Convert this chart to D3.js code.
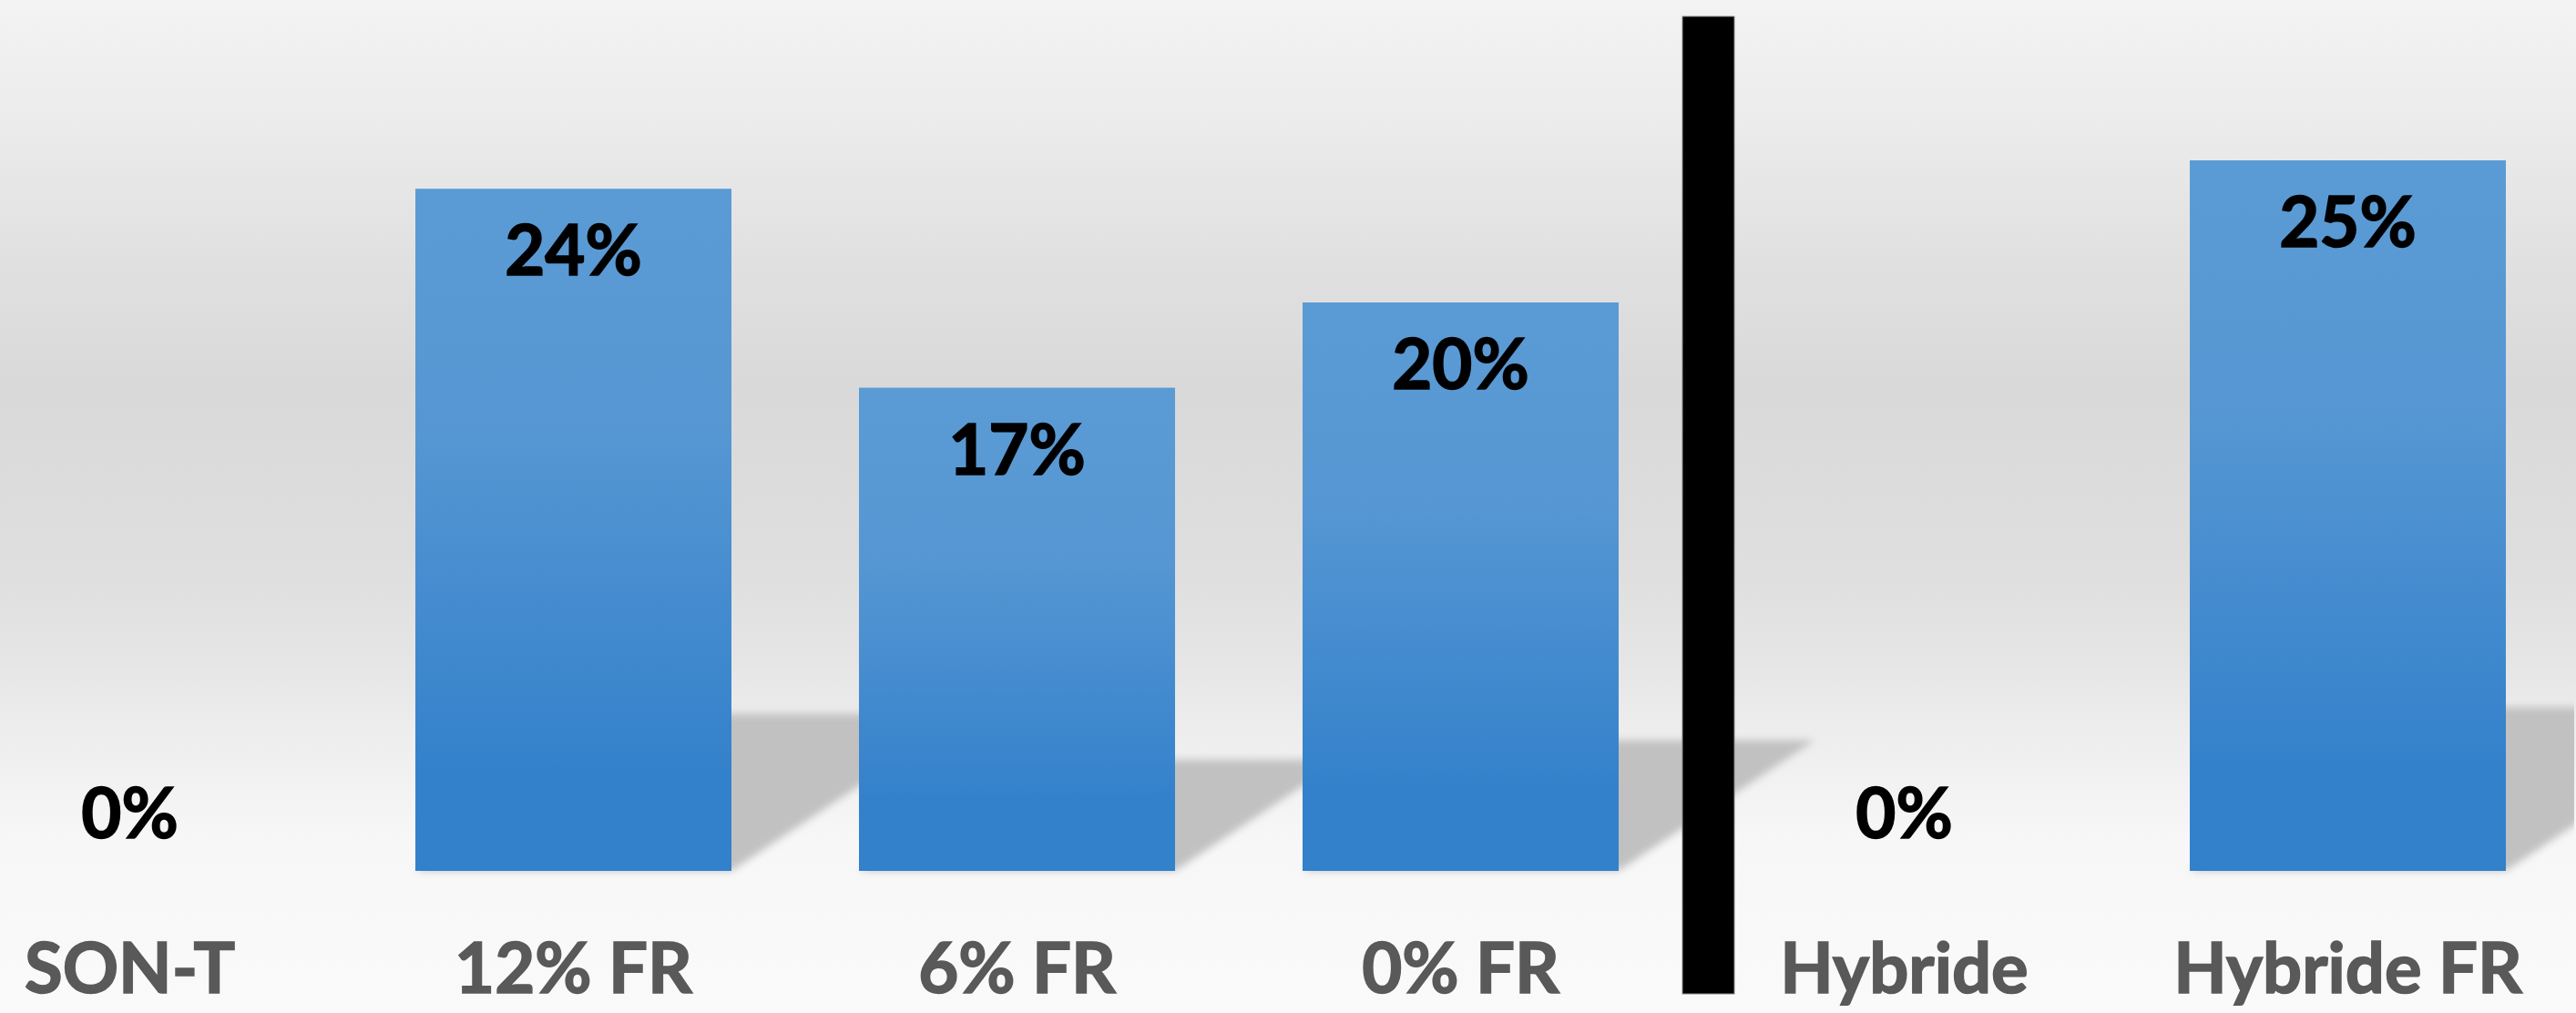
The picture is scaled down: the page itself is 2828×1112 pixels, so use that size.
<!DOCTYPE html>
<html>
<head>
<meta charset="utf-8">
<script src="https://cdn.jsdelivr.net/npm/d3@7"></script>
<style>
  html, body { margin: 0; padding: 0; background: #fafafa; }
  svg { display: block; }
</style>
</head>
<body>
<div id="chart"></div>
<script>
const categories = ['SON-T', '12% FR', '6% FR', '0% FR', 'Hybride', 'Hybride FR']
const values = [0, 0.24, 0.17, 0.20, 0, 0.25]
const valueLabels = ['0%', '24%', '17%', '20%', '0%', '25%']

const w = 2828
const h = 1112
const baseY = 956
const topY = 20

const svg = d3.select('#chart')
  .append('svg')
  .attr('width', w)
  .attr('height', h)

const defs = svg.append('defs')

// wall + floor background
const bg = defs.append('linearGradient')
  .attr('id', 'bg')
  .attr('x1', 0).attr('y1', 0).attr('x2', 0).attr('y2', 1)
const bgStops = [[0, '#f3f3f3'], [0.1, '#ededed'], [0.25, '#e1e1e1'], [0.38, '#d9d9d9'],
  [0.55, '#dedede'], [0.65, '#e5e5e5'], [0.72, '#ededed'], [0.83, '#f7f7f7'], [1, '#fafafa']]
bgStops.forEach(s => bg.append('stop').attr('offset', s[0]).attr('stop-color', s[1]))

const barGrad = defs.append('linearGradient')
  .attr('id', 'barGrad')
  .attr('x1', 0).attr('y1', 0).attr('x2', 0).attr('y2', 1)
const barStops = [[0, '#5b9bd5'], [0.35, '#5697d3'], [0.85, '#3481cb'], [1, '#3380cb']]
barStops.forEach(s => barGrad.append('stop').attr('offset', s[0]).attr('stop-color', s[1]))

defs.append('filter')
  .attr('id', 'blur')
  .attr('x', '-10%').attr('y', '-10%').attr('width', '120%').attr('height', '120%')
  .append('feGaussianBlur')
  .attr('stdDeviation', 4)

defs.append('clipPath')
  .attr('id', 'plotClip')
  .append('rect')
  .attr('x', 0).attr('y', 0).attr('width', w - 2).attr('height', h)

svg.append('rect')
  .attr('width', w)
  .attr('height', h)
  .attr('fill', 'url(#bg)')

const xScale = d3.scaleBand()
  .domain(categories)
  .range([-101, 2821])
  .paddingInner(0.2875)
  .paddingOuter(0.14375)

const yScale = d3.scaleLinear()
  .domain([0, 0.30])
  .range([baseY, topY])

const data = categories.map((c, i) => ({ cat: c, value: values[i], label: valueLabels[i] }))

// perspective shadows behind the bars
svg.append('g')
  .attr('clip-path', 'url(#plotClip)')
  .selectAll('polygon')
  .data(data.filter(d => d.value > 0))
  .enter()
  .append('polygon')
  .attr('points', d => {
    const x0 = xScale(d.cat)
    const x1 = x0 + xScale.bandwidth()
    const sh = 0.23 * (baseY - yScale(d.value))
    const off = 1.5 * sh
    return [[x0, baseY], [x1, baseY], [x1 + off, baseY - sh], [x0 + off, baseY - sh]].join(' ')
  })
  .attr('fill', '#c1c1c1')
  .attr('filter', 'url(#blur)')

svg.selectAll('rect.bar')
  .data(data)
  .enter()
  .append('rect')
  .attr('class', 'bar')
  .attr('x', d => xScale(d.cat))
  .attr('y', d => yScale(d.value))
  .attr('width', xScale.bandwidth())
  .attr('height', d => baseY - yScale(d.value))
  .attr('fill', 'url(#barGrad)')

svg.selectAll('text.val')
  .data(data)
  .enter()
  .append('text')
  .attr('class', 'val')
  .attr('x', d => xScale(d.cat) + xScale.bandwidth() / 2)
  .attr('y', d => d.value > 0 ? yScale(d.value) + 95 : baseY - 36)
  .attr('text-anchor', 'middle')
  .style('font-family', 'Lato, "Open Sans", sans-serif')
  .style('font-weight', 700)
  .style('font-size', '76px')
  .style('fill', '#000')
  .style('stroke', '#000')
  .style('stroke-width', 1.6)
  .text(d => d.label)

// separator between the two groups
const gap = xScale.step() * xScale.paddingInner()
svg.append('rect')
  .attr('x', xScale('0% FR') + xScale.bandwidth() + gap / 2)
  .attr('y', 18)
  .attr('width', 57)
  .attr('height', 1073)
  .attr('fill', '#000')
  .attr('stroke', '#8a8a8a')
  .attr('stroke-width', 1)

const xAxis = d3.axisBottom(xScale).tickSize(0)

const axisG = svg.append('g')
  .attr('transform', `translate(0, ${baseY})`)
  .call(xAxis)

axisG.select('.domain').remove()
axisG.selectAll('text')
  .attr('y', 1090 - baseY)
  .attr('dy', 0)
  .style('font-family', 'Lato, "Open Sans", sans-serif')
  .style('font-weight', 700)
  .style('font-size', '76px')
  .style('fill', '#595959')
  .style('stroke', '#595959')
  .style('stroke-width', 1.6)
</script>
</body>
</html>
